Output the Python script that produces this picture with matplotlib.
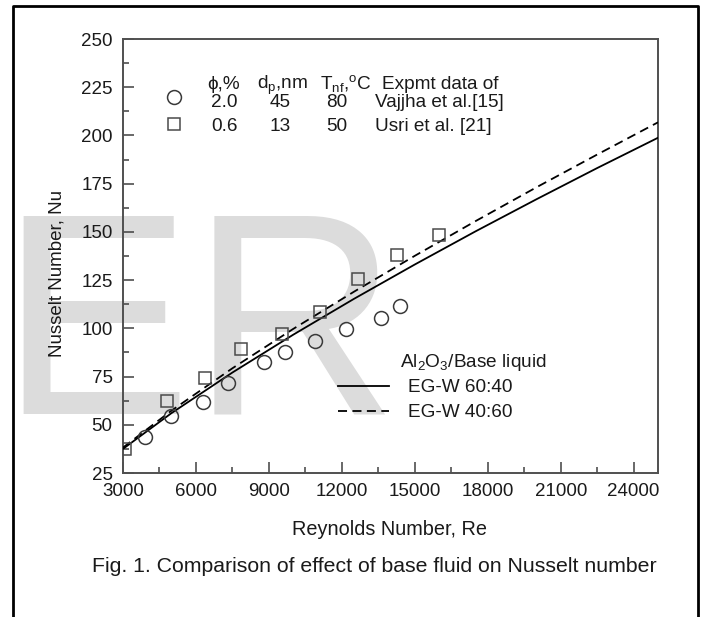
import numpy as np
import matplotlib
matplotlib.use("Agg")
import matplotlib.pyplot as plt
from matplotlib.lines import Line2D
from matplotlib.ticker import MultipleLocator

plt.rcParams['font.family'] = ['Liberation Sans', 'DejaVu Sans']
plt.rcParams['mathtext.default'] = 'regular'

re_vajjha = [3900, 4960, 6300, 7300, 8800, 9650, 10900, 12150, 13600, 14400]
nu_vajjha = [43.8, 54.6, 62.0, 71.8, 82.4, 87.9, 93.6, 99.8, 105.6, 111.6]
re_usri = [3100, 4800, 6380, 7850, 9540, 11110, 12670, 14270, 15980]
nu_usri = [37.3, 62.3, 74.4, 89.3, 97.1, 108.4, 125.5, 138.2, 148.5]

# predicted curves
re_line = [3000, 5000, 7500, 10000, 12500, 15000, 17500, 20000, 22500, 25000]
nu_6040 = [37.5, 56.1, 77.1, 96.7, 115.3, 133.1, 150.3, 166.9, 183.1, 198.8]
nu_4060 = [38.2, 57.4, 79.3, 99.7, 119.0, 137.6, 155.6, 173.1, 190.1, 206.8]

line_labels = ["EG-W 60:40", "EG-W 40:60"]
table_header = ["\u03d5,%", "d$_{p}$,nm", "T$_{nf}$,$^{o}$C", "Expmt data of"]
table_rows = [["2.0", "45", "80", "Vajjha et al.[15]"],
              ["0.6", "13", "50", "Usri et al. [21]"]]

W, H = 702, 617


def px(x, y):
    # pixel position (from top-left) -> figure fraction
    return x / W, 1 - y / H


fig = plt.figure(figsize=(W / 100, H / 100), dpi=100)
ax = fig.add_axes([123 / W, 1 - 473 / H, (658 - 123) / W, (473 - 39) / H])
ax.patch.set_alpha(0)

# watermark behind the plot
fig.text(*px(-1, 413), "ER", fontsize=207, color="#dcdcdc",
         ha="left", va="baseline", zorder=-5)

txt = "#1a1a1a"
fs = 13.7
ax.plot(re_line, nu_6040, color="black", lw=1.3, zorder=3)
ax.plot(re_line, nu_4060, color="black", lw=1.3, ls=(0, (5, 3)), zorder=3)
ax.plot(re_vajjha, nu_vajjha, "o", mfc="none", mec="#3a3a3a", ms=10, mew=1.1, zorder=4)
ax.plot(re_usri, nu_usri, "s", mfc="none", mec="#4a4a4a", ms=8.5, mew=1.1, zorder=4)

ax.set_xlim(3000, 25000)
ax.set_ylim(25, 250)
ax.xaxis.set_major_locator(MultipleLocator(3000))
ax.xaxis.set_minor_locator(MultipleLocator(1500))
ax.yaxis.set_major_locator(MultipleLocator(25))
ax.yaxis.set_minor_locator(MultipleLocator(12.5))
ax.tick_params(which="both", direction="in", top=False, right=False,
               color="#404040", width=1.1)
ax.tick_params(which="major", length=8, labelsize=13.5, labelcolor=txt, pad=7.5)
ax.tick_params(which="minor", length=4.5)
for s in ax.spines.values():
    s.set_color("#505050")
    s.set_linewidth(1.4)

fig.text(*px(390, 535), "Reynolds Number, Re", fontsize=14.3, color=txt,
         ha="center", va="baseline")
fig.text(*px(57, 274), "Nusselt Number, Nu", fontsize=13.5, color=txt,
         ha="center", va="center", rotation=90)
fig.text(*px(92, 572), "Fig. 1. Comparison of effect of base fluid on Nusselt number",
         fontsize=15.3, color=txt, ha="left", va="baseline")

# upper-left table legend
hx = [207, 257, 320, 382]
for x, s in zip(hx, table_header):
    fig.text(*px(x, 89), s, fontsize=fs, color=txt, ha="left", va="baseline")
col_c = [224, 280, 337]
for y, row in zip([107, 130.5], table_rows):
    for x, s in zip(col_c, row[:3]):
        fig.text(*px(x, y), s, fontsize=fs, color=txt, ha="center", va="baseline")
    fig.text(*px(375, y), row[3], fontsize=fs, color=txt, ha="left", va="baseline")

keys = [Line2D([], [], ls="none", marker="o", mfc="none", mec="#3a3a3a", ms=10, mew=1.1),
        Line2D([], [], ls="none", marker="s", mfc="none", mec="#4a4a4a", ms=8.5, mew=1.1)]
leg1 = ax.legend(keys, ["", ""], loc="center", bbox_to_anchor=px(174, 112.5),
                 bbox_transform=fig.transFigure, frameon=False, fontsize=13,
                 handlelength=1, handletextpad=0, labelspacing=0.55, borderpad=0)
ax.add_artist(leg1)

# lower-right legend for the curves
fig.text(*px(400, 367), "Al$_2$O$_3$/Base liquid", fontsize=fs, color=txt,
         ha="left", va="baseline")
line_keys = [Line2D([], [], color="black", lw=1.3),
             Line2D([], [], color="black", lw=1.3, ls=(0, (5, 3)))]
leg2 = ax.legend(line_keys, line_labels, loc="upper left",
                 bbox_to_anchor=px(338, 379), bbox_transform=fig.transFigure,
                 frameon=False, fontsize=fs, handlelength=2.7, handletextpad=1.0,
                 labelspacing=0.4, borderpad=0, borderaxespad=0)
for t in leg2.get_texts():
    t.set_color(txt)

# outer frame
fig.add_artist(Line2D([12.5 / W, 12.5 / W, 697.5 / W, 697.5 / W],
                      [0, 1 - 6 / H, 1 - 6 / H, 0],
                      transform=fig.transFigure, color="black", lw=2))

fig.savefig("out.png", dpi=100)
